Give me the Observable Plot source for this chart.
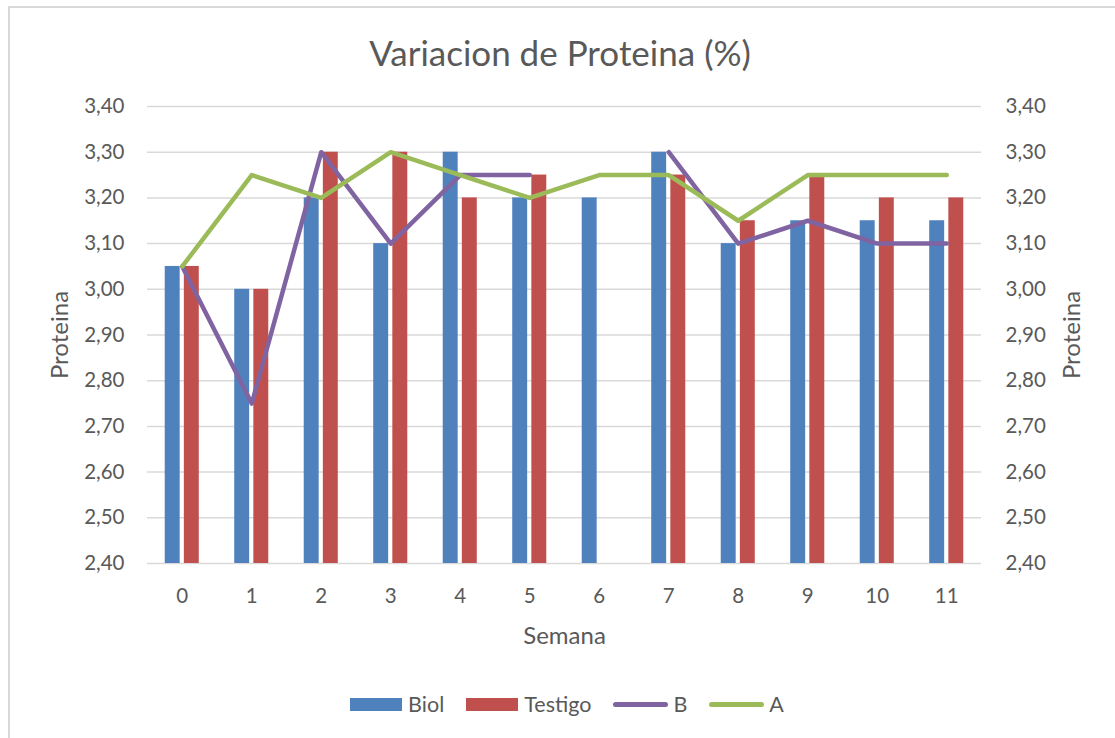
<!DOCTYPE html>
<html>
<head>
<meta charset="utf-8">
<script src="https://cdn.jsdelivr.net/npm/d3@7"></script>
<script src="https://cdn.jsdelivr.net/npm/@observablehq/plot@0.6"></script>
<style>
  html, body { margin: 0; padding: 0; background: #fff; }
  body { width: 1115px; height: 738px; position: relative; overflow: hidden; font-family: Lato, "Open Sans", sans-serif; color: #595959; }
  #frame { position: absolute; left: 8px; top: 6px; width: 1200px; height: 800px; border-left: 2px solid #d9d9d9; border-top: 2px solid #d9d9d9; box-sizing: border-box; }
  #title { position: absolute; left: 0; width: 1120px; top: 30px; text-align: center; font-size: 35px; line-height: 44px; color: #595959; }
  #chart { position: absolute; left: 0; top: 0; }
  #legend { position: absolute; left: 0; width: 1134px; top: 692px; display: flex; justify-content: center; align-items: center; font-size: 21.5px; line-height: 24px; color: #595959; }
  .item { display: flex; align-items: center; margin: 0 11px; }
  .sw { width: 52px; height: 13px; margin-right: 6px; }
  .ln { width: 55px; height: 5px; border-radius: 3px; margin-right: 5px; }
</style>
</head>
<body>
<div id="frame"></div>
<div id="chart"></div>
<div id="title">Variacion de Proteina (%)</div>
<div id="legend"></div>
<script>
// ---- data ----
const weeks   = [0, 1, 2, 3, 4, 5, 6, 7, 8, 9, 10, 11];
const biol    = [3.05, 3.00, 3.20, 3.10, 3.30, 3.20, 3.20, 3.30, 3.10, 3.15, 3.15, 3.15];
const testigo = [3.05, 3.00, 3.30, 3.30, 3.20, 3.25, null, 3.25, 3.15, 3.25, 3.20, 3.20];
const seriesB = [3.05, 2.75, 3.30, 3.10, 3.25, 3.25, null, 3.30, 3.10, 3.15, 3.10, 3.10];
const seriesA = [3.05, 3.25, 3.20, 3.30, 3.25, 3.20, 3.25, 3.25, 3.15, 3.25, 3.25, 3.25];
const yTicks  = [2.40, 2.50, 2.60, 2.70, 2.80, 2.90, 3.00, 3.10, 3.20, 3.30, 3.40];
const seriesNames = ["Biol", "Testigo", "B", "A"];
const colors = {Biol: "#4F81BD", Testigo: "#C0504D", B: "#8064A2", A: "#9BBB59"};

const rows = (vals) => weeks.map((w, i) => ({week: w, value: vals[i]}));
const biolRows = rows(biol).filter(d => d.value != null);
const testRows = rows(testigo).filter(d => d.value != null);
const bRows = rows(seriesB);
const aRows = rows(seriesA);

const fmt = d => d.toFixed(2).replace(".", ",");
const halfGap = 0.03, barW = 0.215;
const FS = 20.5, LFS = 24;

const chart = Plot.plot({
  width: 1115,
  height: 660,
  marginTop: 106,
  marginBottom: 97,
  marginLeft: 147,
  marginRight: 134,
  style: {fontFamily: "Lato, 'Open Sans', sans-serif", fontSize: FS + "px", color: "#595959", background: "transparent"},
  x: {domain: [-0.5, 11.5]},
  y: {domain: [2.4, 3.4]},
  marks: [
    Plot.gridY(yTicks, {stroke: "#d9d9d9", strokeOpacity: 1, strokeWidth: 1.5}),
    Plot.rectY(biolRows, {x1: d => d.week - halfGap - barW, x2: d => d.week - halfGap, y: "value", fill: colors.Biol, clip: true}),
    Plot.rectY(testRows, {x1: d => d.week + halfGap, x2: d => d.week + halfGap + barW, y: "value", fill: colors.Testigo, clip: true}),
    Plot.line(bRows, {x: "week", y: "value", stroke: colors.B, strokeWidth: 4.5, strokeLinecap: "round", strokeLinejoin: "round"}),
    Plot.line(aRows, {x: "week", y: "value", stroke: colors.A, strokeWidth: 4.5, strokeLinecap: "round", strokeLinejoin: "round"}),
    Plot.axisY(yTicks, {anchor: "left", tickSize: 0, tickPadding: 23, tickFormat: fmt, fontSize: FS, label: null, fill: "#595959"}),
    Plot.axisY(yTicks, {anchor: "right", tickSize: 0, tickPadding: 24, tickFormat: fmt, fontSize: FS, label: null, fill: "#595959"}),
    Plot.axisX(weeks, {anchor: "bottom", tickSize: 0, tickPadding: 25, tickFormat: d => String(d), fontSize: FS, label: null, fill: "#595959"}),
    Plot.axisY([], {anchor: "left", tickSize: 0, fontSize: LFS, label: "Proteina", labelAnchor: "center", labelArrow: "none", labelOffset: 97, fill: "#595959"}),
    Plot.axisY([], {anchor: "right", tickSize: 0, fontSize: LFS, label: "Proteina", labelAnchor: "center", labelArrow: "none", labelOffset: 98, fill: "#595959"}),
    Plot.axisX([], {anchor: "bottom", tickSize: 0, fontSize: LFS, label: "Semana", labelAnchor: "center", labelArrow: "none", labelOffset: 80, fill: "#595959"})
  ]
});
document.getElementById("chart").appendChild(chart);

// legend
const legend = document.getElementById("legend");
seriesNames.forEach(name => {
  const item = document.createElement("div");
  item.className = "item";
  const sw = document.createElement("div");
  sw.className = (name === "Biol" || name === "Testigo") ? "sw" : "ln";
  sw.style.background = colors[name];
  const label = document.createElement("span");
  label.textContent = name;
  item.appendChild(sw);
  item.appendChild(label);
  legend.appendChild(item);
});
</script>
</body>
</html>
